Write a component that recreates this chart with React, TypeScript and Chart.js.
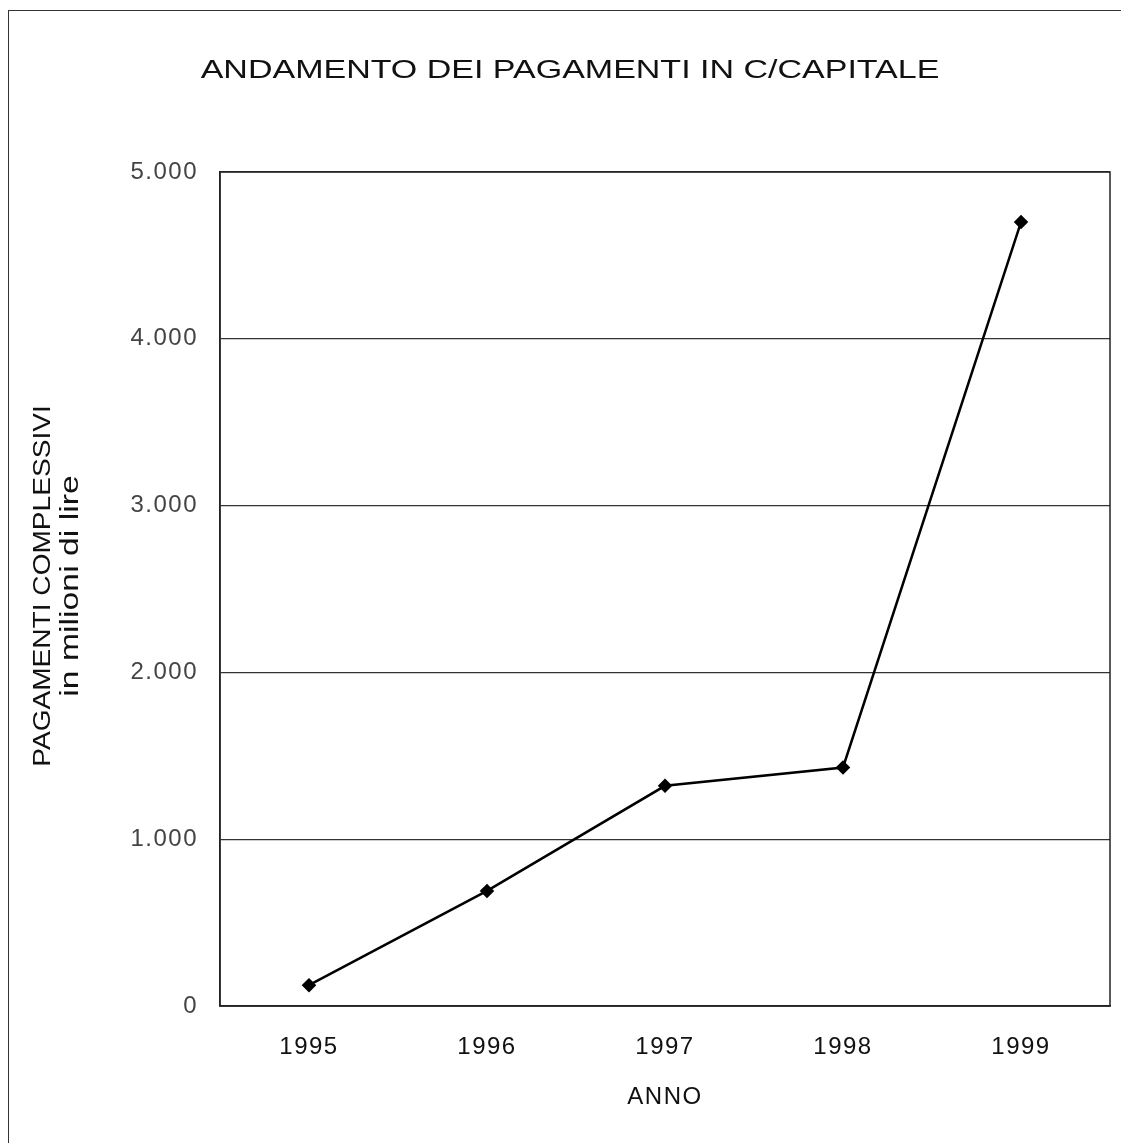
import React, { useEffect, useRef } from "react";
import { Chart, registerables } from "chart.js";

Chart.register(...registerables);

const titleText = "ANDAMENTO DEI PAGAMENTI IN C/CAPITALE";
const yTitleLines = ["PAGAMENTI COMPLESSIVI", "in milioni di lire"];
const xTitleText = "ANNO";
const years = ["1995", "1996", "1997", "1998", "1999"];
const payments = [125, 690, 1320, 1430, 4700];
const yMin = 0;
const yMax = 5000;
const yStep = 1000;

const FONT = "'Liberation Sans', Arial, sans-serif";

function formatIt(v: number): string {
  return String(Math.round(v)).replace(/\B(?=(\d{3})+(?!\d))/g, ".");
}

const decorPlugin = {
  id: "decor",
  beforeDraw(chart: any) {
    chart.ctx.letterSpacing = "1.5px";
  },
  afterDraw(chart: any) {
    const ctx = chart.ctx as CanvasRenderingContext2D;
    const a = chart.chartArea;
    ctx.save();
    ctx.letterSpacing = "0px";
    // plot frame
    ctx.strokeStyle = "#222";
    ctx.lineWidth = 1.5;
    ctx.strokeRect(a.left, a.top, a.right - a.left, a.bottom - a.top);
    // main title
    ctx.fillStyle = "#111";
    ctx.textAlign = "center";
    ctx.textBaseline = "middle";
    ctx.font = `25px ${FONT}`;
    ctx.save();
    ctx.translate(570, 71);
    ctx.scale(1.36, 1);
    ctx.fillText(titleText, 0, 0);
    ctx.restore();
    // y title (two lines, rotated)
    const xs = [43, 71];
    const sizes = [24, 25];
    const stretch = [1.17, 1.35];
    yTitleLines.forEach((t, i) => {
      ctx.save();
      ctx.translate(xs[i], 586);
      ctx.rotate(-Math.PI / 2);
      ctx.scale(stretch[i], 1);
      ctx.font = `${sizes[i]}px ${FONT}`;
      ctx.fillText(t, 0, 0);
      ctx.restore();
    });
    ctx.restore();
  },
};

export default function App() {
  const ref = useRef<HTMLCanvasElement | null>(null);
  useEffect(() => {
    if (!ref.current) return;
    const chart = new Chart(ref.current, {
      type: "line",
      data: {
        labels: years,
        datasets: [
          {
            data: payments,
            borderColor: "#000",
            backgroundColor: "#000",
            borderWidth: 2.5,
            pointStyle: "rectRot",
            pointRadius: 5.5,
            pointBackgroundColor: "#000",
            pointBorderColor: "#000",
            tension: 0,
          },
        ],
      },
      options: {
        animation: false,
        responsive: false,
        maintainAspectRatio: false,
        layout: { padding: { top: 172, right: 11, left: 0, bottom: 0 } },
        plugins: {
          legend: { display: false },
          title: { display: false },
          tooltip: { enabled: false },
        },
        scales: {
          x: {
            offset: true,
            grid: { display: false, drawTicks: false },
            border: { display: true, color: "#222", width: 1.5 },
            ticks: {
              padding: 27,
              color: "#111",
              font: { family: FONT, size: 24 },
            },
            title: {
              display: true,
              text: xTitleText,
              color: "#111",
              font: { family: FONT, size: 24 },
              padding: { top: 0, bottom: 31 },
            },
            afterFit(scale: any) {
              scale.height = 137;
            },
          },
          y: {
            min: yMin,
            max: yMax,
            ticks: {
              stepSize: yStep,
              padding: 22,
              color: "#444",
              font: { family: FONT, size: 24 },
              callback: (v: any) => formatIt(Number(v)),
            },
            grid: { color: "#333", lineWidth: 1.2, drawTicks: false },
            border: { display: true, color: "#222", width: 1.5 },
            afterFit(scale: any) {
              scale.width = 220;
            },
          },
        },
      },
      plugins: [decorPlugin],
    });
    return () => chart.destroy();
  }, []);
  return (
    <div style={{ position: "absolute", left: 0, top: 0, width: 1121, height: 1143, background: "#fff" }}>
      <div
        style={{
          position: "absolute",
          left: 8,
          top: 10,
          width: 1113,
          height: 1133,
          borderLeft: "1.5px solid #333",
          borderTop: "1.5px solid #333",
          boxSizing: "border-box",
        }}
      />
      <canvas ref={ref} width={1121} height={1143} style={{ position: "absolute", left: 0, top: 0 }} />
    </div>
  );
}
